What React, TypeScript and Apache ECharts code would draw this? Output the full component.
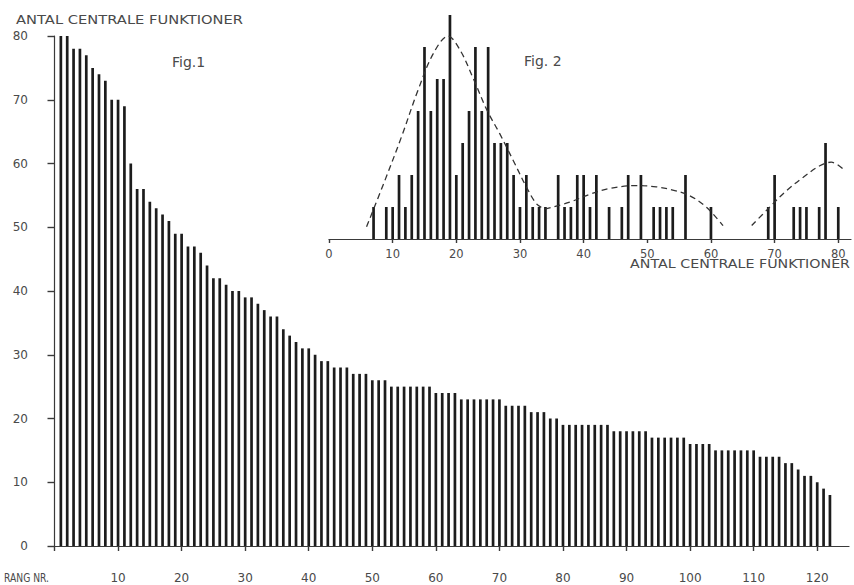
import React, { useEffect, useRef } from "react";
import * as echarts from "echarts";

// ---------- Fig. 1 : rank-size (rank 1..122) ----------
const fig1Values = [
  80, 80, 78, 78, 77, 75, 74, 73, 70, 70,
  69, 60, 56, 56, 54, 53, 52, 51, 49, 49,
  47, 47, 46, 44, 42, 42, 41, 40, 40, 39,
  39, 38, 37, 36, 36, 34, 33, 32, 31, 31,
  30, 29, 29, 28, 28, 28, 27, 27, 27, 26,
  26, 26, 25, 25, 25, 25, 25, 25, 25, 24,
  24, 24, 24, 23, 23, 23, 23, 23, 23, 23,
  22, 22, 22, 22, 21, 21, 21, 20, 20, 19,
  19, 19, 19, 19, 19, 19, 19, 18, 18, 18,
  18, 18, 18, 17, 17, 17, 17, 17, 17, 16,
  16, 16, 16, 15, 15, 15, 15, 15, 15, 15,
  14, 14, 14, 14, 13, 13, 12, 11, 11, 10,
  9, 8,
];
const fig1XTicks = [0, 10, 20, 30, 40, 50, 60, 70, 80, 90, 100, 110, 120];
const fig1XLabels = [10, 20, 30, 40, 50, 60, 70, 80, 90, 100, 110, 120];

// ---------- Fig. 2 : frequency of number of central functions ----------
const fig2Values = [
  7, 9, 10, 11, 12, 13, 14, 15, 16, 17, 18, 19, 20, 21, 22, 23, 24, 25, 26, 27,
  28, 29, 30, 31, 32, 33, 34, 36, 37, 38, 39, 40, 41, 42, 44, 46, 47, 49, 51, 52,
  53, 54, 56, 60, 69, 70, 73, 74, 75, 77, 78, 80,
];
const fig2Counts = [
  1, 1, 1, 2, 1, 2, 4, 6, 4, 5, 5, 7, 2, 3, 4, 6, 4, 6, 3, 3,
  3, 2, 1, 2, 1, 1, 1, 2, 1, 1, 2, 2, 1, 2, 1, 1, 2, 2, 1, 1,
  1, 1, 2, 1, 1, 2, 1, 1, 1, 1, 3, 1,
];
const fig2Ticks = [0, 10, 20, 30, 40, 50, 60, 70, 80];

// dashed curves (hand-traced points: [antal, frequency])
const curve1 = [
  [5.9, 0.38], [8.8, 1.84], [11.4, 3.2], [14.0, 4.66], [16.4, 5.8], [18.7, 6.34],
  [20.6, 5.9], [22.7, 5.0], [24.8, 4.03], [26.8, 3.3], [28.9, 2.47], [31.0, 1.63],
  [32.6, 1.1], [33.9, 0.93],
];
const curve2 = [
  [33.9, 0.93], [37.8, 1.15], [41.0, 1.4], [44.1, 1.58], [48.3, 1.67], [51.4, 1.63],
  [54.0, 1.53], [56.7, 1.35], [59.3, 0.99], [61.9, 0.42],
];
const curve3 = [
  [66.4, 0.42], [69.2, 0.99], [71.8, 1.5], [74.5, 1.93], [77.1, 2.29], [78.9, 2.4],
  [81.0, 2.14],
];

const FONT = "DejaVu Sans";
const TEXT = "#4a4a4a";
const INK = "#1c1c1c";
const AXIS = "#3a3a3a";

function measure(text: string, size: number): number {
  const c = document.createElement("canvas").getContext("2d");
  if (!c) return text.length * size * 0.6;
  c.font = `${size}px "${FONT}"`;
  return c.measureText(text).width;
}

function fitText(text: string, size: number, x: number, y: number, width: number, align: "left" | "right") {
  const w = measure(text, size);
  return {
    type: "text",
    x,
    y,
    scaleX: width / w,
    silent: true,
    style: {
      text,
      fontSize: size,
      fontFamily: FONT,
      fill: TEXT,
      align,
      verticalAlign: "middle",
    },
  };
}

export default function App() {
  const ref = useRef<HTMLDivElement>(null);

  useEffect(() => {
    if (!ref.current) return;
    const chart = echarts.init(ref.current, undefined, { renderer: "svg" });

    const dashStyle = { color: "#333", width: 1.3, type: [6, 4] as number[] };
    const tickLine = { color: AXIS, width: 1.4 };

    const option: any = {
      animation: false,
      backgroundColor: "#ffffff",
      grid: [
        { left: 54.5, top: 36, width: 794.5, height: 510 },
        { left: 329, top: 15, width: 522, height: 224 },
      ],
      xAxis: [
        {
          type: "value",
          gridIndex: 0,
          min: 0,
          max: 125,
          offset: 16,
          axisLine: { show: true, lineStyle: { color: AXIS, width: 1.2 } },
          axisTick: { show: true, customValues: fig1XTicks, length: 5, lineStyle: tickLine },
          axisLabel: {
            customValues: fig1XLabels,
            margin: 10,
            fontSize: 12,
            fontFamily: FONT,
            color: TEXT,
          },
          splitLine: { show: false },
        },
        {
          type: "value",
          gridIndex: 1,
          min: 0,
          max: 82,
          axisLine: { show: true, onZero: false, lineStyle: { color: AXIS, width: 1.2 } },
          axisTick: { show: true, customValues: fig2Ticks, length: 4, lineStyle: tickLine },
          axisLabel: {
            customValues: fig2Ticks,
            margin: 9,
            fontSize: 11.5,
            fontFamily: FONT,
            color: TEXT,
          },
          splitLine: { show: false },
        },
      ],
      yAxis: [
        {
          type: "value",
          gridIndex: 0,
          min: 0,
          max: 80,
          interval: 10,
          offset: 16.5,
          axisLine: { show: true, lineStyle: { color: AXIS, width: 1.2 } },
          axisTick: { show: true, length: 7, lineStyle: tickLine },
          axisLabel: {
            margin: 10,
            fontSize: 12,
            fontFamily: FONT,
            color: TEXT,
          },
          splitLine: { show: false },
        },
        {
          type: "value",
          gridIndex: 1,
          min: 0,
          max: 7,
          show: false,
          splitLine: { show: false },
        },
      ],
      series: [
        {
          type: "bar",
          xAxisIndex: 0,
          yAxisIndex: 0,
          barWidth: 2.7,
          itemStyle: { color: INK },
          data: fig1Values.map((v, i) => [i + 1, v]),
        },
        {
          type: "bar",
          xAxisIndex: 1,
          yAxisIndex: 1,
          barWidth: 2.7,
          itemStyle: { color: INK },
          data: fig2Values.map((v, i) => [v, fig2Counts[i]]),
        },
        ...[curve1, curve2, curve3].map((c) => ({
          type: "line",
          xAxisIndex: 1,
          yAxisIndex: 1,
          smooth: 0.35,
          symbol: "none",
          lineStyle: dashStyle,
          data: c,
          z: 3,
        })),
      ],
      graphic: [
        fitText("ANTAL CENTRALE FUNKTIONER", 12, 16, 20, 227, "left"),
        fitText("RANG NR.", 12, 4, 578, 45, "left"),
        fitText("ANTAL CENTRALE FUNKTIONER", 12, 850, 264, 220, "right"),
        {
          type: "text",
          x: 172,
          y: 62,
          silent: true,
          style: { text: "Fig.1", fontSize: 14, fontFamily: FONT, fill: TEXT, verticalAlign: "middle" },
        },
        {
          type: "text",
          x: 524,
          y: 61,
          silent: true,
          style: { text: "Fig. 2", fontSize: 14, fontFamily: FONT, fill: TEXT, verticalAlign: "middle" },
        },
      ],
    };

    chart.setOption(option);
    return () => chart.dispose();
  }, []);

  return (
    <div
      ref={ref}
      style={{ position: "absolute", left: 0, top: 0, width: 854, height: 585, background: "#fff" }}
    />
  );
}
